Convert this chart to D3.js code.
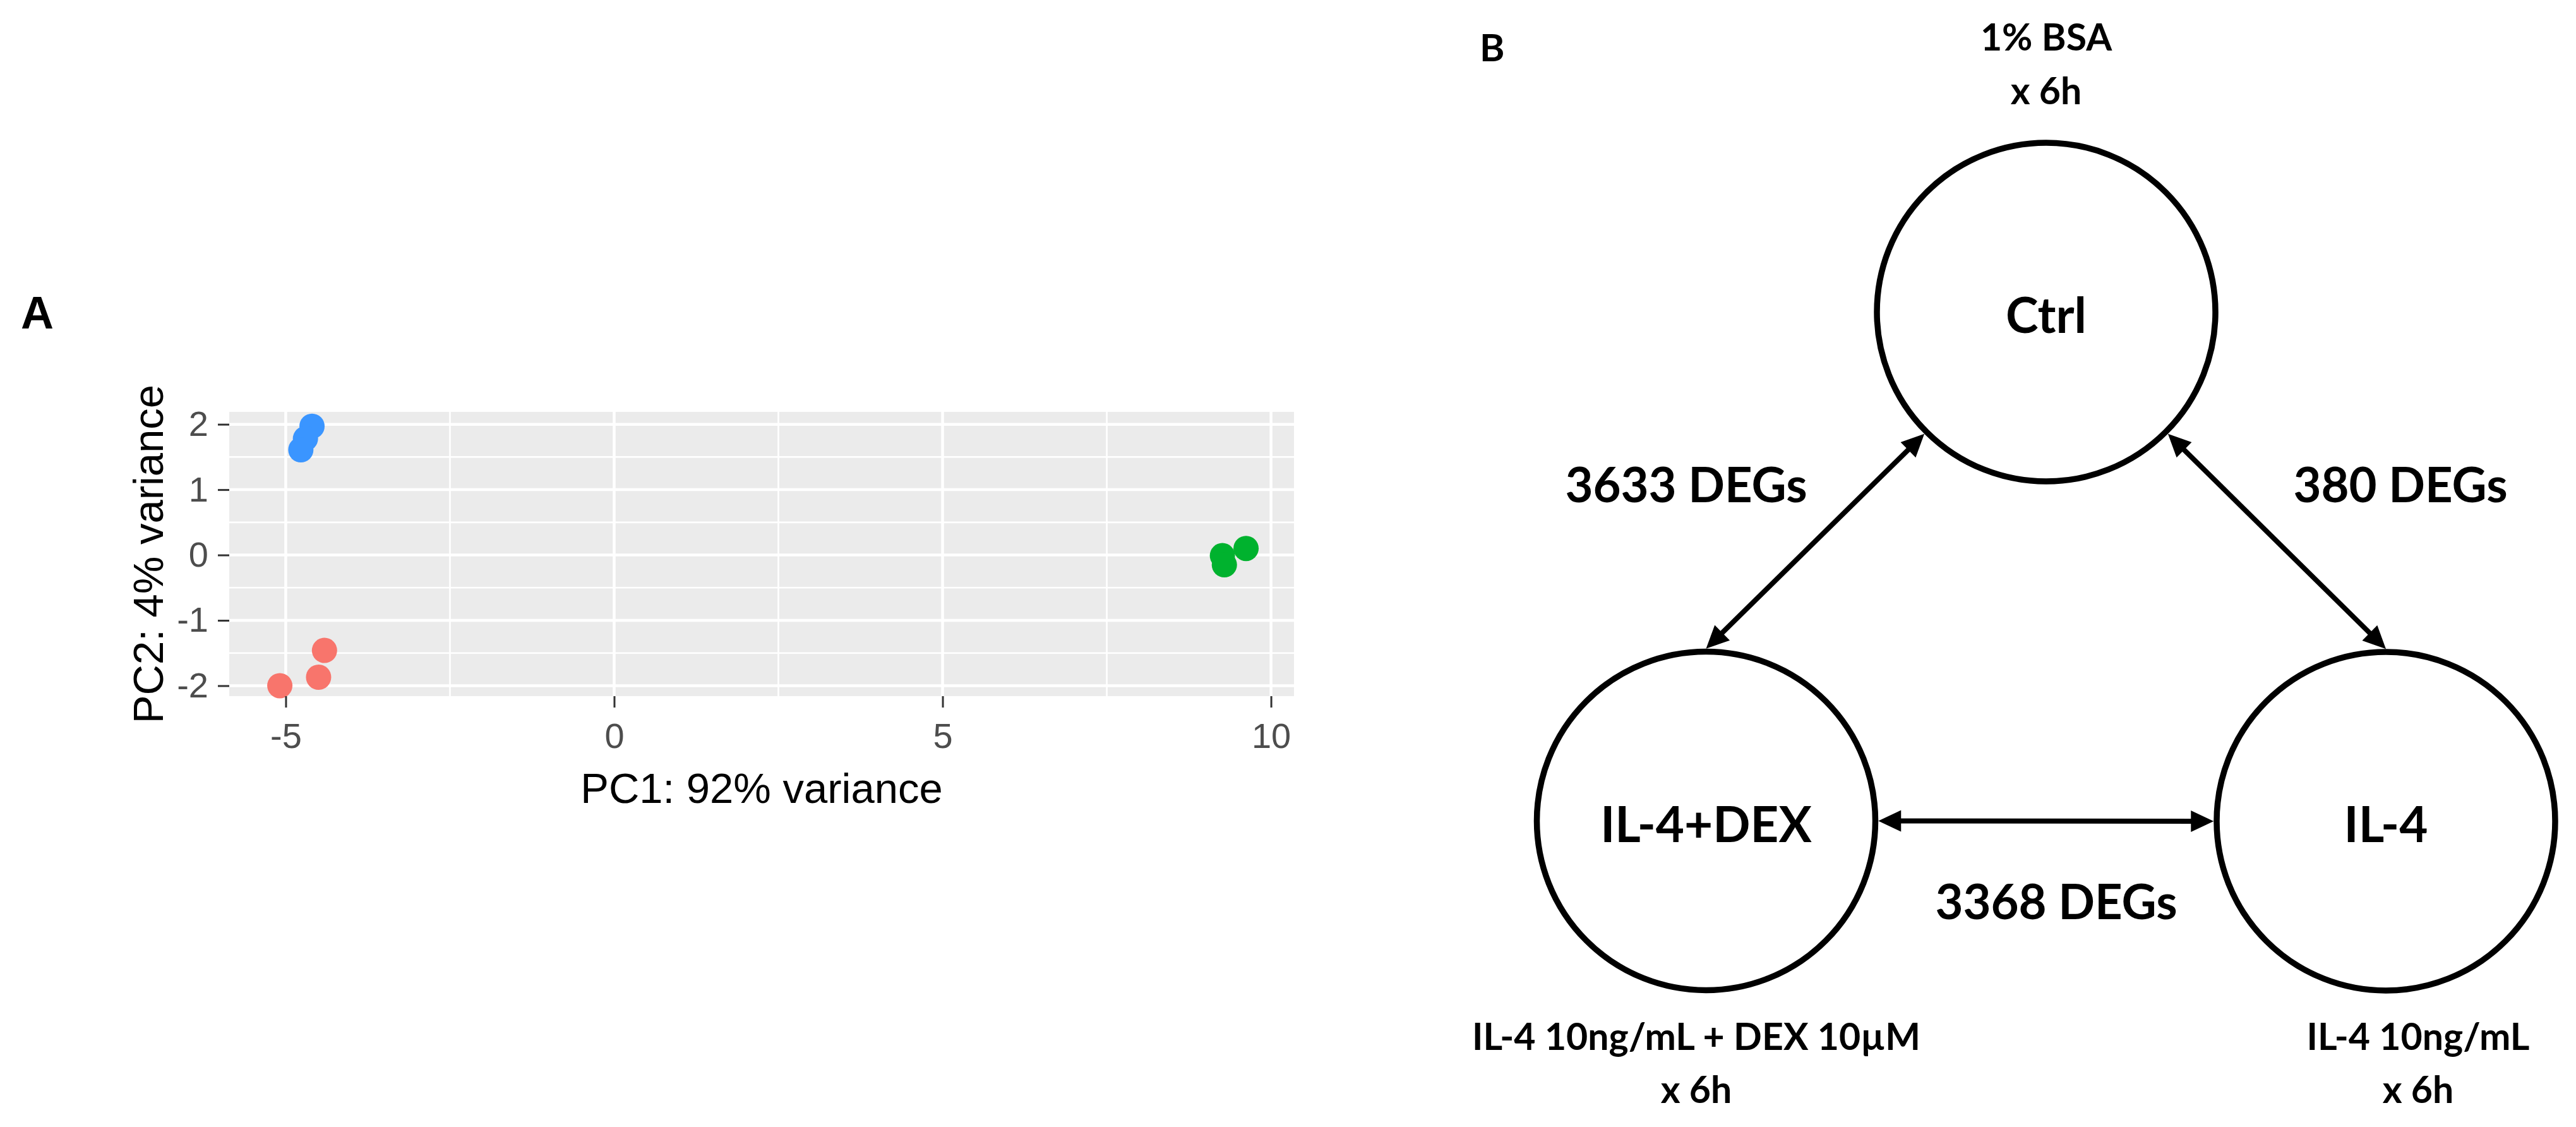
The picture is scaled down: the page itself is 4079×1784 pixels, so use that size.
<!DOCTYPE html>
<html>
<head>
<meta charset="utf-8">
<script src="https://cdn.jsdelivr.net/npm/d3@7"></script>
<style>
  body { margin: 0; background: #fff; }
  svg { display: block; background: #fff; }
</style>
</head>
<body>
<svg id="figure" width="4079" height="1784"></svg>
<script>
// ---- Panel A: PCA scores ----
var pc1 = [-5.09, -4.50, -4.41, -4.60, -4.70, -4.77, 9.26, 9.29, 9.62];
var pc2 = [-2.00, -1.87, -1.46, 1.97, 1.78, 1.61, -0.01, -0.15, 0.10];
var pcaGroup = ["Ctrl", "Ctrl", "Ctrl", "IL-4", "IL-4", "IL-4", "IL-4+DEX", "IL-4+DEX", "IL-4+DEX"];
var groupNames = ["Ctrl", "IL-4", "IL-4+DEX"];
var groupColors = ["#F8756C", "#3A95FF", "#00B22E"];
var xTicks = [-5, 0, 5, 10];
var yTicks = [-2, -1, 0, 1, 2];
var xMinor = [-2.5, 2.5, 7.5];
var yMinor = [-1.5, -0.5, 0.5, 1.5];
var xTitle = "PC1: 92% variance";
var yTitle = "PC2: 4% variance";

// ---- Panel B: DEG comparison diagram ----
var conditions = ["Ctrl", "IL-4+DEX", "IL-4"];
var treatmentLine1 = ["1% BSA", "IL-4 10ng/mL + DEX 10µM", "IL-4 10ng/mL"];
var treatmentLine2 = ["x 6h", "x 6h", "x 6h"];
var compFrom = ["Ctrl", "Ctrl", "IL-4+DEX"];
var compTo = ["IL-4+DEX", "IL-4", "IL-4"];
var degCounts = [3633, 380, 3368];

var svg;
var armFont = "'Liberation Sans', Arial, sans-serif";
var boldFont = "Lato, 'Open Sans', sans-serif";

document.addEventListener("DOMContentLoaded", function() {
  svg = d3.select("#figure");
  drawPca();
  drawDiagram();
});

function drawPca() {
  let panel = { left: 363, top: 652, right: 2049, bottom: 1102 };
  let x = d3.scaleLinear().domain([-5.86, 10.35]).range([panel.left, panel.right]);
  let y = d3.scaleLinear().domain([-2.16, 2.19]).range([panel.bottom, panel.top]);
  let color = d3.scaleOrdinal().domain(groupNames).range(groupColors);
  // ggplot prints a plain hyphen for negatives
  let plain = d => String(d);

  // panel label
  svg.append("text")
    .attr("x", 33).attr("y", 520)
    .attr("font-family", armFont).attr("font-weight", "bold")
    .attr("font-size", 72)
    .text("A");

  let g = svg.append("g");
  g.append("rect")
    .attr("x", panel.left).attr("y", panel.top)
    .attr("width", panel.right - panel.left)
    .attr("height", panel.bottom - panel.top)
    .attr("fill", "#EBEBEB");

  // grid: minor then major
  g.selectAll("line.xminor").data(xMinor).enter().append("line")
    .attr("x1", d => x(d)).attr("x2", d => x(d))
    .attr("y1", panel.top).attr("y2", panel.bottom)
    .attr("stroke", "#fff").attr("stroke-width", 2.6);
  g.selectAll("line.yminor").data(yMinor).enter().append("line")
    .attr("y1", d => y(d)).attr("y2", d => y(d))
    .attr("x1", panel.left).attr("x2", panel.right)
    .attr("stroke", "#fff").attr("stroke-width", 2.6);
  g.selectAll("line.xmajor").data(xTicks).enter().append("line")
    .attr("x1", d => x(d)).attr("x2", d => x(d))
    .attr("y1", panel.top).attr("y2", panel.bottom)
    .attr("stroke", "#fff").attr("stroke-width", 4.5);
  g.selectAll("line.ymajor").data(yTicks).enter().append("line")
    .attr("y1", d => y(d)).attr("y2", d => y(d))
    .attr("x1", panel.left).attr("x2", panel.right)
    .attr("stroke", "#fff").attr("stroke-width", 4.5);

  // points
  g.selectAll("circle.pt").data(pc1).enter().append("circle")
    .attr("cx", d => x(d))
    .attr("cy", (d, i) => y(pc2[i]))
    .attr("r", 20)
    .attr("fill", (d, i) => color(pcaGroup[i]));

  // axes
  let xAxis = svg.append("g")
    .attr("transform", `translate(0,${panel.bottom})`)
    .call(d3.axisBottom(x).tickValues(xTicks).tickFormat(plain).tickSize(18).tickPadding(24));
  let yAxis = svg.append("g")
    .attr("transform", `translate(${panel.left},0)`)
    .call(d3.axisLeft(y).tickValues(yTicks).tickFormat(plain).tickSize(18).tickPadding(15));
  [xAxis, yAxis].forEach(a => {
    a.select(".domain").remove();
    a.selectAll(".tick line").attr("stroke", "#333").attr("stroke-width", 3);
    a.selectAll(".tick text")
      .attr("fill", "#4D4D4D")
      .attr("font-family", armFont)
      .attr("font-size", 56);
  });

  // axis titles
  svg.append("text")
    .attr("x", (panel.left + panel.right) / 2).attr("y", 1271)
    .attr("text-anchor", "middle")
    .attr("font-family", armFont).attr("font-size", 67)
    .text(xTitle);
  svg.append("text")
    .attr("transform", `translate(258,${(panel.top + panel.bottom) / 2}) rotate(-90)`)
    .attr("text-anchor", "middle")
    .attr("font-family", armFont).attr("font-size", 67)
    .text(yTitle);
}

function drawDiagram() {
  // where things sit on the page
  let layout = {
    "Ctrl":     { cx: 3240,   cy: 494,    tx: 3240, ty: [80, 164.5] },
    "IL-4+DEX": { cx: 2701.5, cy: 1299.5, tx: 2686, ty: [1662, 1746] },
    "IL-4":     { cx: 3778,   cy: 1300,   tx: 3829, ty: [1662, 1746] }
  };
  let edgeAngles = [[135, -90], [45, -90], [0, 180]];
  let degPos = [[2670, 795], [3801, 795], [3256, 1455]];
  let r = 268, ringWidth = 9.5, reach = r + ringWidth / 2;
  let headLen = 36, headHalf = 17, lineWidth = 8;

  svg.append("text")
    .attr("x", 2343).attr("y", 97)
    .attr("font-family", boldFont).attr("font-weight", "bold")
    .attr("font-size", 60)
    .text("B");

  let g = svg.append("g");

  g.selectAll("circle.node").data(conditions).enter().append("circle")
    .attr("cx", d => layout[d].cx)
    .attr("cy", d => layout[d].cy)
    .attr("r", r)
    .attr("fill", "none")
    .attr("stroke", "#000")
    .attr("stroke-width", ringWidth);

  g.selectAll("text.node").data(conditions).enter().append("text")
    .attr("x", d => layout[d].cx)
    .attr("y", d => layout[d].cy + 33)
    .attr("text-anchor", "middle")
    .attr("font-family", boldFont).attr("font-weight", "bold")
    .attr("font-size", 78)
    .text(d => d);

  // treatment descriptions
  conditions.forEach((c, i) => {
    [treatmentLine1[i], treatmentLine2[i]].forEach((line, k) => {
      g.append("text")
        .attr("x", layout[c].tx)
        .attr("y", layout[c].ty[k])
        .attr("text-anchor", "middle")
        .attr("font-family", boldFont).attr("font-weight", "bold")
        .attr("font-size", 59)
        .text(line);
    });
  });

  // double-headed arrows between the circles
  compFrom.forEach((from, i) => {
    let a1 = edgeAngles[i][0] * Math.PI / 180;
    let a2 = edgeAngles[i][1] * Math.PI / 180;
    let p1 = [layout[from].cx + reach * Math.cos(a1), layout[from].cy + reach * Math.sin(a1)];
    let p2 = [layout[compTo[i]].cx + reach * Math.cos(a2), layout[compTo[i]].cy + reach * Math.sin(a2)];
    let len = Math.hypot(p2[0] - p1[0], p2[1] - p1[1]);
    let u = [(p2[0] - p1[0]) / len, (p2[1] - p1[1]) / len];
    let n = [-u[1], u[0]];

    g.append("line")
      .attr("x1", p1[0] + u[0] * headLen * 0.8).attr("y1", p1[1] + u[1] * headLen * 0.8)
      .attr("x2", p2[0] - u[0] * headLen * 0.8).attr("y2", p2[1] - u[1] * headLen * 0.8)
      .attr("stroke", "#000").attr("stroke-width", lineWidth);

    let head = (tip, dir) => {
      let bx = tip[0] - dir[0] * headLen, by = tip[1] - dir[1] * headLen;
      return [[tip[0], tip[1]],
              [bx + n[0] * headHalf, by + n[1] * headHalf],
              [bx - n[0] * headHalf, by - n[1] * headHalf]];
    };
    g.append("polygon").attr("points", head(p2, u).join(" ")).attr("fill", "#000");
    g.append("polygon").attr("points", head(p1, [-u[0], -u[1]]).join(" ")).attr("fill", "#000");

    g.append("text")
      .attr("x", degPos[i][0]).attr("y", degPos[i][1])
      .attr("text-anchor", "middle")
      .attr("font-family", boldFont).attr("font-weight", "bold")
      .attr("font-size", 76)
      .text(degCounts[i] + " DEGs");
  });
}
</script>
</body>
</html>
